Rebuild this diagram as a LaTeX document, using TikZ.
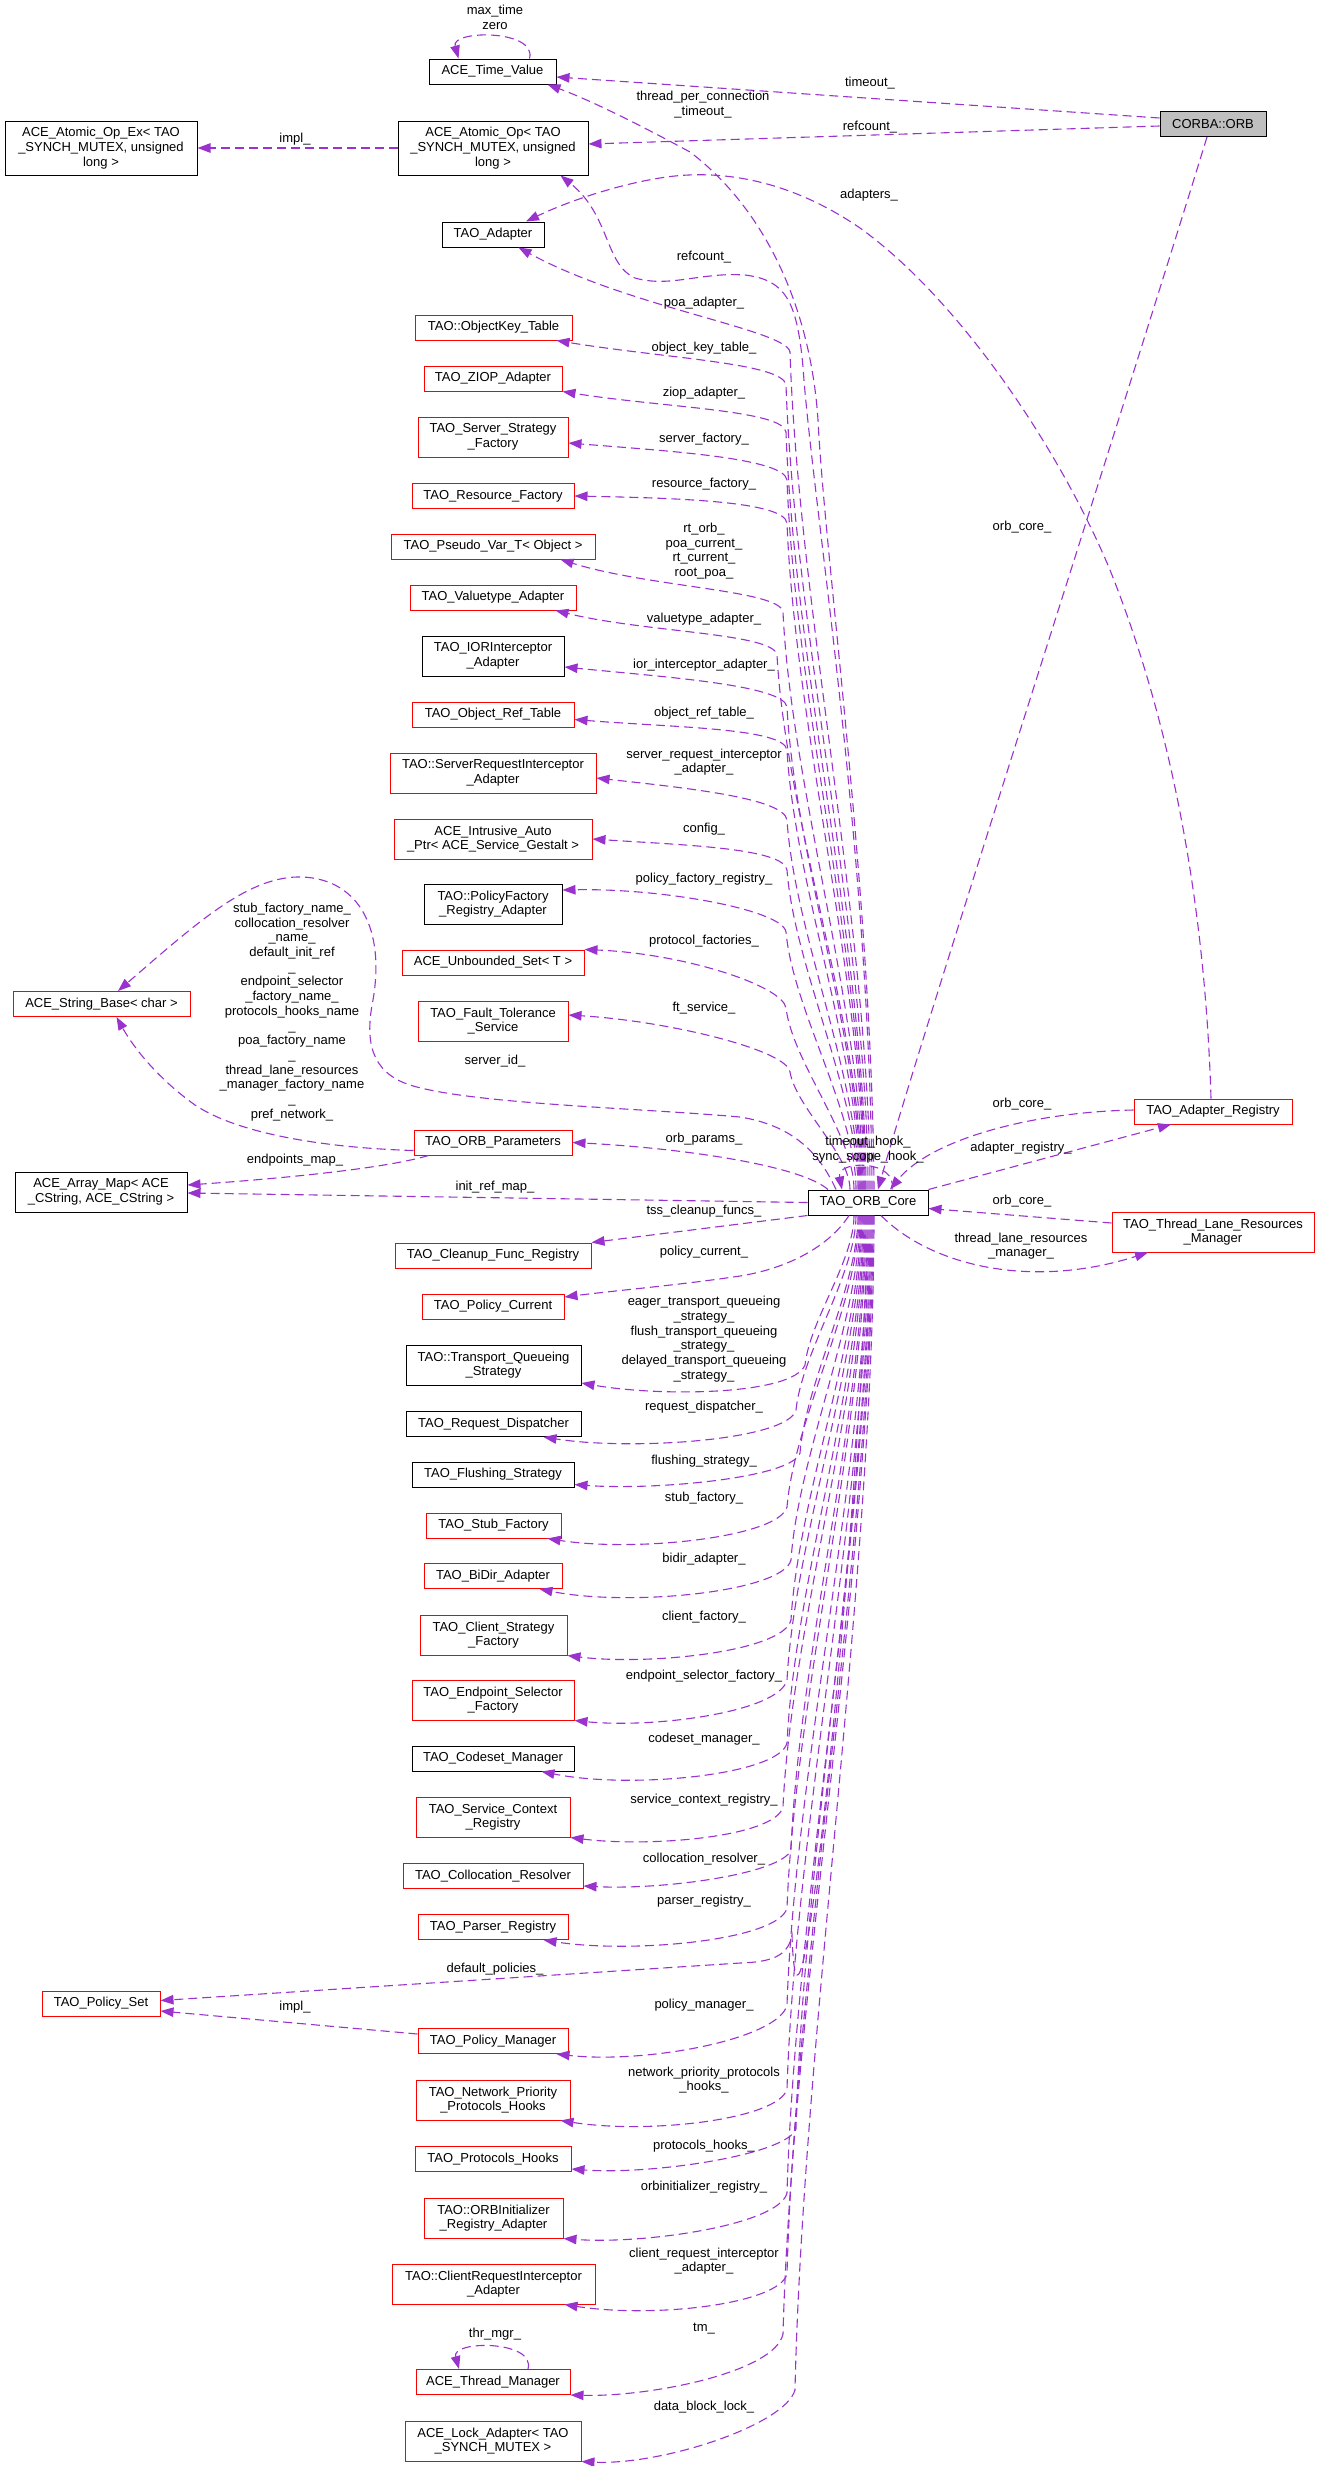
\documentclass[tikz,border=0pt]{standalone}
\usepackage{fontspec}
\setmainfont{Liberation Sans}
\usetikzlibrary{arrows.meta}

\definecolor{memberline}{HTML}{9A32CD}
\definecolor{rootfill}{HTML}{BFBFBF}

\tikzset{
    classbox/.style={draw=black, line width=1pt, rectangle, inner sep=0pt, align=center,
        minimum height=25, font=\fontsize{13}{14.7}\selectfont},
    redbox/.style={classbox, draw=red},
    rootbox/.style={classbox, fill=rootfill},
    member/.style={draw=memberline, line width=1.1pt, dash pattern=on 9pt off 5pt,
        -{Triangle[length=13pt, width=9.5pt]}},
    memlabel/.style={inner sep=0pt, align=center, font=\fontsize{13}{14.7}\selectfont}
}

\begin{document}
\begin{tikzpicture}[x=1pt, y=-1pt]
    \useasboundingbox (0,0) rectangle (1320,2466);

    % the two central classes
    \node[rootbox, minimum width=106] (orb) at (1213,124) {CORBA::ORB};
    \node[classbox, minimum width=120] (core) at (868,1202.5) {TAO\_ORB\_Core};

    % member types, upper part
    \node[classbox, minimum width=127] (tv) at (492.5,71.5) {ACE\_Time\_Value};
    \node[classbox, minimum width=192, minimum height=54] (aopex) at (101,148) {ACE\_Atomic\_Op\_Ex< TAO\\\_SYNCH\_MUTEX, unsigned\\long >};
    \node[classbox, minimum width=190, minimum height=54] (aop) at (493,148) {ACE\_Atomic\_Op< TAO\\\_SYNCH\_MUTEX, unsigned\\long >};
    \node[classbox, minimum width=102] (adapter) at (493,234.5) {TAO\_Adapter};
    \node[redbox, minimum width=157] (okt) at (493.5,327.5) {TAO::ObjectKey\_Table};
    \node[redbox, minimum width=138] (ziop) at (493,378.5) {TAO\_ZIOP\_Adapter};
    \node[redbox, minimum width=150, minimum height=40] (ssf) at (493,437) {TAO\_Server\_Strategy\\\_Factory};
    \node[redbox, minimum width=162] (rf) at (493,496) {TAO\_Resource\_Factory};
    \node[redbox, minimum width=204] (pv) at (493,546.5) {TAO\_Pseudo\_Var\_T< Object >};
    \node[redbox, minimum width=166] (vt) at (493,597.5) {TAO\_Valuetype\_Adapter};
    \node[classbox, minimum width=142, minimum height=40] (iori) at (493,656) {TAO\_IORInterceptor\\\_Adapter};
    \node[redbox, minimum width=162] (ort) at (493,714.5) {TAO\_Object\_Ref\_Table};
    \node[redbox, minimum width=206, minimum height=40] (sri) at (493,773) {TAO::ServerRequestInterceptor\\\_Adapter};
    \node[redbox, minimum width=198, minimum height=40] (iap) at (493,839) {ACE\_Intrusive\_Auto\\\_Ptr< ACE\_Service\_Gestalt >};
    \node[classbox, minimum width=138, minimum height=40] (pfr) at (493,904) {TAO::PolicyFactory\\\_Registry\_Adapter};
    \node[redbox, minimum width=182] (ubs) at (493,962.5) {ACE\_Unbounded\_Set< T >};
    \node[redbox, minimum width=150, minimum height=40] (fts) at (493,1021) {TAO\_Fault\_Tolerance\\\_Service};
    \node[redbox, minimum width=177] (sb) at (101.5,1004) {ACE\_String\_Base< char >};
    \node[redbox, minimum width=158] (orbp) at (493,1142.5) {TAO\_ORB\_Parameters};
    \node[classbox, minimum width=172, minimum height=40] (am) at (101,1192) {ACE\_Array\_Map< ACE\\\_CString, ACE\_CString >};

    % right hand side
    \node[redbox, minimum width=158] (areg) at (1213,1111.5) {TAO\_Adapter\_Registry};
    \node[redbox, minimum width=202, minimum height=40] (tlrm) at (1213,1232) {TAO\_Thread\_Lane\_Resources\\\_Manager};

    % member types, lower part
    \node[redbox, minimum width=196] (cfr) at (493,1255.5) {TAO\_Cleanup\_Func\_Registry};
    \node[redbox, minimum width=142] (pc) at (493,1306.5) {TAO\_Policy\_Current};
    \node[classbox, minimum width=175, minimum height=40] (tqs) at (493.5,1365) {TAO::Transport\_Queueing\\\_Strategy};
    \node[classbox, minimum width=175] (rd) at (493.5,1424) {TAO\_Request\_Dispatcher};
    \node[classbox, minimum width=162] (fs) at (493,1474.5) {TAO\_Flushing\_Strategy};
    \node[redbox, minimum width=135] (sf) at (493.5,1525.5) {TAO\_Stub\_Factory};
    \node[redbox, minimum width=138] (bda) at (493,1576) {TAO\_BiDir\_Adapter};
    \node[redbox, minimum width=147, minimum height=40] (csf) at (493.5,1635) {TAO\_Client\_Strategy\\\_Factory};
    \node[redbox, minimum width=162, minimum height=40] (esf) at (493,1700) {TAO\_Endpoint\_Selector\\\_Factory};
    \node[classbox, minimum width=162] (csm) at (493,1758.5) {TAO\_Codeset\_Manager};
    \node[redbox, minimum width=154, minimum height=40] (scr) at (493,1817) {TAO\_Service\_Context\\\_Registry};
    \node[redbox, minimum width=180] (cr) at (493,1876) {TAO\_Collocation\_Resolver};
    \node[redbox, minimum width=150] (pr) at (493,1927) {TAO\_Parser\_Registry};
    \node[redbox, minimum width=118] (ps) at (101,2003.5) {TAO\_Policy\_Set};
    \node[redbox, minimum width=150] (pm) at (493,2041) {TAO\_Policy\_Manager};
    \node[redbox, minimum width=154, minimum height=40] (npph) at (493,2100) {TAO\_Network\_Priority\\\_Protocols\_Hooks};
    \node[redbox, minimum width=156] (ph) at (493,2159) {TAO\_Protocols\_Hooks};
    \node[redbox, minimum width=139, minimum height=40] (oira) at (493.5,2218) {TAO::ORBInitializer\\\_Registry\_Adapter};
    \node[redbox, minimum width=203, minimum height=40] (cria) at (493.5,2284) {TAO::ClientRequestInterceptor\\\_Adapter};
    \node[redbox, minimum width=154] (thm) at (493,2382) {ACE\_Thread\_Manager};
    \node[redbox, minimum width=176, minimum height=40] (la) at (493,2441) {ACE\_Lock\_Adapter< TAO\\\_SYNCH\_MUTEX >};

    % edges from CORBA::ORB
    \draw[member] ([yshift=6]orb.west) -- ([yshift=-5.5]tv.east);
    \draw[member] ([yshift=-2]orb.west) -- ([yshift=4]aop.east);
    \draw[member] ([xshift=-6]orb.south) .. controls (1120,420) and (920,1040) .. ([xshift=10]core.north);

    % self loops
    \draw[member] ([xshift=37]tv.north) .. controls +(8,-29) and +(-8,-29) .. ([xshift=-34]tv.north);
    \draw[member] ([xshift=35]thm.north) .. controls +(8,-29) and +(-8,-29) .. ([xshift=-34]thm.north);
    \draw[member] ([xshift=24]core.north) .. controls +(6,-30) and +(-6,-30) .. ([xshift=-26]core.north);

    % impl_ edges
    \draw[member] (aop.west) -- (aopex.east);
    \draw[member] ([yshift=7]pm.west) -- ([yshift=-7.5]ps.east);

    % adapter registry
    \draw[member] ([xshift=-2]areg.north) .. controls (1205,900) and (1170,720) .. (1110,570)
        .. controls (1060,450) and (960,300) .. (860,228)
        .. controls (790,180) and (720,168) .. (660,178)
        .. controls (610,186) and (560,205) .. ([xshift=33]adapter.north);
    \draw[member] ([yshift=1.5]areg.west) .. controls (1030,1112) and (930,1140) .. ([xshift=22]core.north);
    \draw[member] (core.north east) -- ([xshift=-42]areg.south);
    \draw[member] ([yshift=9]tlrm.west) -- ([yshift=-6]core.east);
    \draw[member] ([xshift=13]core.south) .. controls (930,1265) and (1030,1290) .. ([xshift=-65]tlrm.south);

    % edges from TAO_ORB_Core that leave its top
    \draw[member] ([xshift=6]core.north) .. controls (872,900) and (825,560) .. (818,420)
        .. controls (810,300) and (760,205) .. (690,152)
        .. controls (640,125) and (590,100) .. ([xshift=-9]tv.south east);
    \draw[member] ([xshift=4]core.north) .. controls (870,850) and (812,500) .. (803,367)
        .. controls (797,300) and (785,280) .. (745,275)
        .. controls (700,272) and (670,288) .. (635,278)
        .. controls (605,265) and (610,215) .. ([xshift=-28]aop.south east);
    \foreach \tgt/\xs/\ys/\sh/\kx/\ky/\cx/\cy in {
        adapter.south east/-26/0/2/790/352/110/60,
        okt.south east/-16/0/0/786/385/110/18,
        ziop.south east/0/0/-2/786/432/100/16,
        ssf.east/0/-6/-3/787/480/100/8,
        rf.east/0/0/-4/787/523/100/2,
        pv.south east/-35/0/-5/783/612/90/28,
        vt.south east/-21/0/-6/777/655/90/22,
        iori.east/0/-11/-7/787/707/100/10,
        ort.east/0/-5/-8/787/750/100/8,
        sri.east/0/-5/-9/787/820/90/10,
        iap.east/0/0/-10/787/870/90/6,
        pfr.east/0/14/-12/786/932/100/-2,
        ubs.north east/0/0/-14/786/1008/100/4,
        fts.east/0/6/-18/790/1072/100/6}
    {
        \pgfmathsetmacro\dy{0.3*(1190-\ky)}
        \pgfmathsetmacro\dx{0.1*(868+\sh-\kx)}
        \draw[member] ([xshift=\sh]core.north) .. controls +(0,-\dy) and +(\dx,\dy) .. (\kx,\ky)
            .. controls +(-3,-22) and +(\cx,\cy) .. ([xshift=\xs, yshift=\ys]\tgt);
    }
    \draw[member] ([xshift=-40]core.north) .. controls (800,1165) and (680,1148) .. (orbp.east);

    % string and map members
    \draw[member] ([xshift=-32]core.north) .. controls (818,1150) and (790,1125) .. (740,1117)
        .. controls (640,1108) and (470,1104) .. (410,1085)
        .. controls (370,1072) and (365,1040) .. (373,1000)
        .. controls (385,930) and (360,880) .. (303,877)
        .. controls (250,875) and (200,920) .. ([xshift=16.5]sb.north);
    \draw[member] ([yshift=-8]orbp.west) .. controls (330,1148) and (240,1135) .. (195,1105)
        .. controls (160,1080) and (135,1050) .. ([xshift=15]sb.south);
    \draw[member] ([xshift=15]orbp.south west) .. controls (380,1170) and (260,1180) .. ([yshift=7]am.east);
    \draw[member] (core.west) -- ([yshift=-1]am.east);

    % edges from TAO_ORB_Core that leave its bottom
    \draw[member] (core.south west) -- (cfr.north east);
    \draw[member] ([xshift=-19]core.south) .. controls (830,1245) and (790,1268) .. (740,1276)
        .. controls (680,1285) and (620,1290) .. ([yshift=9.5]pc.east);
    \foreach \tgt/\xs/\ys/\sh/\kx/\ky/\ax/\ay/\cx/\cy in {
        tqs.east/0/-18/-14/805/1365/-12/30/80/14,
        rd.south east/-38/0/-12/796/1410/-8/30/90/14,
        fs.east/0/-10/-10/800/1453/-8/25/80/6,
        sf.south east/-14/0/-9/787/1507/-8/30/90/14,
        bda.south east/-23/0/-8/791/1560/-8/32/90/18,
        csf.south east/0/0/-7/791/1620/-8/32/80/10,
        esf.south east/0/0/-6/787/1680/-8/32/80/8,
        csm.south east/-33/0/-5/787/1743/-8/32/90/18,
        scr.south east/0/0/-4/783/1807/-8/30/80/10,
        cr.east/0/-10/-3/791/1850/-10/24/80/4,
        pr.south east/-25/0/-2/787/1908/-8/32/90/14,
        pm.south east/-12/0/0/787/2005/-8/34/90/10,
        npph.south east/-10/0/1/787/2089/-8/30/90/14,
        ph.east/0/-10/2/796/2129/-10/26/80/6,
        oira.south east/0/0/3/787/2193/-8/32/80/6,
        cria.south east/-31/0/4/787/2274/-8/30/90/14,
        thm.south east/0/0/5/783/2334/-8/38/80/2,
        la.south east/0/0/6/795/2390/-10/35/80/4}
    {
        \pgfmathsetmacro\dy{0.3*(\ky-1215)}
        \pgfmathsetmacro\dx{0.1*(868+\sh-\kx)}
        \draw[member] ([xshift=\sh]core.south) .. controls +(0,\dy) and +(\dx,-\dy) .. (\kx,\ky)
            .. controls +(\ax,\ay) and +(\cx,\cy) .. ([xshift=\xs, yshift=\ys]\tgt);
    }
    \draw[member] ([xshift=-1]core.south) .. controls +(0,216) and +(7,216) .. (792,1935)
        .. controls +(-4,22) and +(30,-1) .. (740,1963) -- ([yshift=3]ps.east);

    % member labels in the middle column
    \foreach \y/\txt [count=\i] in {
        257/refcount\_, 303/poa\_adapter\_, 348/object\_key\_table\_, 393/ziop\_adapter\_,
        439/server\_factory\_, 484/resource\_factory\_,
        551/{rt\_orb\_\\poa\_current\_\\rt\_current\_\\root\_poa\_},
        619/valuetype\_adapter\_, 665/ior\_interceptor\_adapter\_, 713/object\_ref\_table\_,
        762/{server\_request\_interceptor\\\_adapter\_}, 829/config\_,
        879/policy\_factory\_registry\_, 941/protocol\_factories\_, 1008/ft\_service\_,
        1139/orb\_params\_, 1211/tss\_cleanup\_funcs\_, 1252/policy\_current\_,
        1339/{eager\_transport\_queueing\\\_strategy\_\\flush\_transport\_queueing\\\_strategy\_\\delayed\_transport\_queueing\\\_strategy\_},
        1407/request\_dispatcher\_, 1461/flushing\_strategy\_, 1498/stub\_factory\_,
        1559/bidir\_adapter\_, 1617/client\_factory\_, 1676/endpoint\_selector\_factory\_,
        1739/codeset\_manager\_, 1800/service\_context\_registry\_, 1859/collocation\_resolver\_,
        1901/parser\_registry\_, 2005/policy\_manager\_,
        2080/{network\_priority\_protocols\\\_hooks\_}, 2146/protocols\_hooks\_,
        2187/orbinitializer\_registry\_, 2261/{client\_request\_interceptor\\\_adapter\_},
        2329/tm\_, 2407/data\_block\_lock\_}
        \node[memlabel] (lbl\i) at (704,\y) {\txt};

    % other labels
    \node[memlabel] (maxtime) at (495,17) {max\_time\\zero};
    \node[memlabel] (timeout) at (870,83) {timeout\_};
    \node[memlabel] (tpct) at (703,104.5) {thread\_per\_connection\\\_timeout\_};
    \node[memlabel] (orbref) at (870,127) {refcount\_};
    \node[memlabel] (implex) at (295,139) {impl\_};
    \node[memlabel] (adapters) at (869,195) {adapters\_};
    \node[memlabel] (orbcore) at (1022,527) {orb\_core\_};
    \node[memlabel] (serverid) at (495,1061) {server\_id\_};
    \node[memlabel] (names) at (292,1012) {stub\_factory\_name\_\\collocation\_resolver\\\_name\_\\default\_init\_ref\\\_\\endpoint\_selector\\\_factory\_name\_\\protocols\_hooks\_name\\\_\\poa\_factory\_name\\\_\\thread\_lane\_resources\\\_manager\_factory\_name\\\_\\pref\_network\_};
    \node[memlabel] (regcore) at (1022,1104) {orb\_core\_};
    \node[memlabel] (hooks) at (868,1149.5) {timeout\_hook\_\\sync\_scope\_hook\_};
    \node[memlabel] (adreg) at (1021,1148) {adapter\_registry\_};
    \node[memlabel] (epmap) at (295,1160) {endpoints\_map\_};
    \node[memlabel] (initref) at (495,1187) {init\_ref\_map\_};
    \node[memlabel] (lanecore) at (1022,1201) {orb\_core\_};
    \node[memlabel] (tlrmlbl) at (1021,1246) {thread\_lane\_resources\\\_manager\_};
    \node[memlabel] (defpol) at (495,1969) {default\_policies\_};
    \node[memlabel] (implpol) at (295,2007) {impl\_};
    \node[memlabel] (thrmgr) at (495,2334) {thr\_mgr\_};
\end{tikzpicture}
\end{document}
